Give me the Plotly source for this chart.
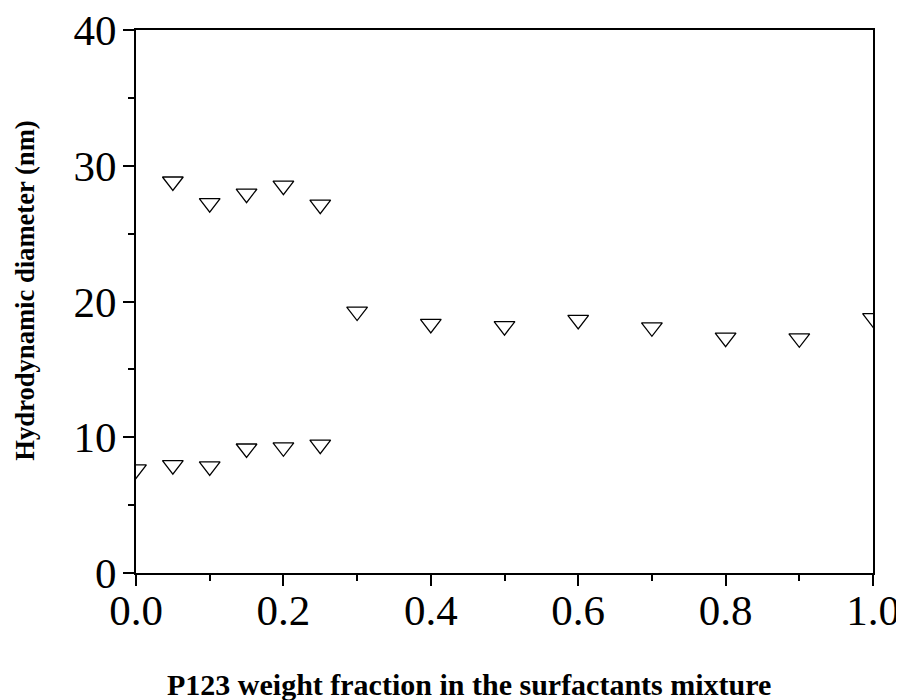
import plotly.graph_objects as go

# P123 weight fraction
x_low = [0.0, 0.05, 0.10, 0.15, 0.20, 0.25]
y_low = [7.63, 7.94, 7.85, 9.17, 9.26, 9.45]

x_high = [0.05, 0.10, 0.15, 0.20, 0.25]
y_high = [28.84, 27.25, 27.95, 28.54, 27.13]

x_mix = [0.3, 0.4, 0.5, 0.6, 0.7, 0.8, 0.9, 1.0]
y_mix = [19.26, 18.35, 18.19, 18.64, 18.10, 17.34, 17.29, 18.77]

x_ticks = [0.0, 0.2, 0.4, 0.6, 0.8, 1.0]
x_ticklabels = ["0.0", "0.2", "0.4", "0.6", "0.8", "1.0"]
y_ticks = [0, 10, 20, 30, 40]
y_ticklabels = ["0", "10", "20", "30", "40"]

FONT = "Liberation Serif, Times New Roman, serif"

marker = dict(symbol="triangle-down-open", size=18, color="black", line=dict(width=1.3, color="black"))

fig = go.Figure()
for xs, ys in [(x_low, y_low), (x_high, y_high), (x_mix, y_mix)]:
    fig.add_trace(go.Scatter(x=xs, y=ys, mode="markers", marker=marker,
                             showlegend=False, cliponaxis=True))

axis_common = dict(
    showline=True, linecolor="black", linewidth=2, mirror=True,
    showgrid=False, zeroline=False, automargin=False,
    ticks="outside", ticklen=11, tickwidth=2, tickcolor="black",
    ticklabeloverflow="allow",
    tickfont=dict(family=FONT, size=43, color="black"),
)

fig.update_xaxes(range=[0, 1], tickvals=x_ticks, ticktext=x_ticklabels,
                 ticklabelstandoff=-13,
                 minor=dict(dtick=0.1, ticks="outside", ticklen=6, tickwidth=2, tickcolor="black"),
                 **axis_common)
fig.update_yaxes(range=[0, 40], tickvals=y_ticks, ticktext=y_ticklabels,
                 ticklabelstandoff=-2,
                 minor=dict(dtick=5, ticks="outside", ticklen=6, tickwidth=2, tickcolor="black"),
                 **axis_common)

fig.update_layout(
    width=896, height=692,
    margin=dict(l=128, r=31, t=22, b=127),
    plot_bgcolor="white", paper_bgcolor="white",
    annotations=[
        dict(text="<b>P123 weight fraction in the surfactants mixture</b>",
             xref="paper", yref="paper", x=0.4525, y=0, yshift=-111,
             xanchor="center", yanchor="middle", showarrow=False,
             font=dict(family=FONT, size=30, color="black")),
        dict(text="<b>Hydrodynamic diameter (nm)</b>",
             xref="paper", yref="paper", x=0, xshift=-111, y=0.52,
             xanchor="center", yanchor="middle", showarrow=False, textangle=-90,
             font=dict(family=FONT, size=26.6, color="black")),
    ],
)

fig.write_html("out.html")
